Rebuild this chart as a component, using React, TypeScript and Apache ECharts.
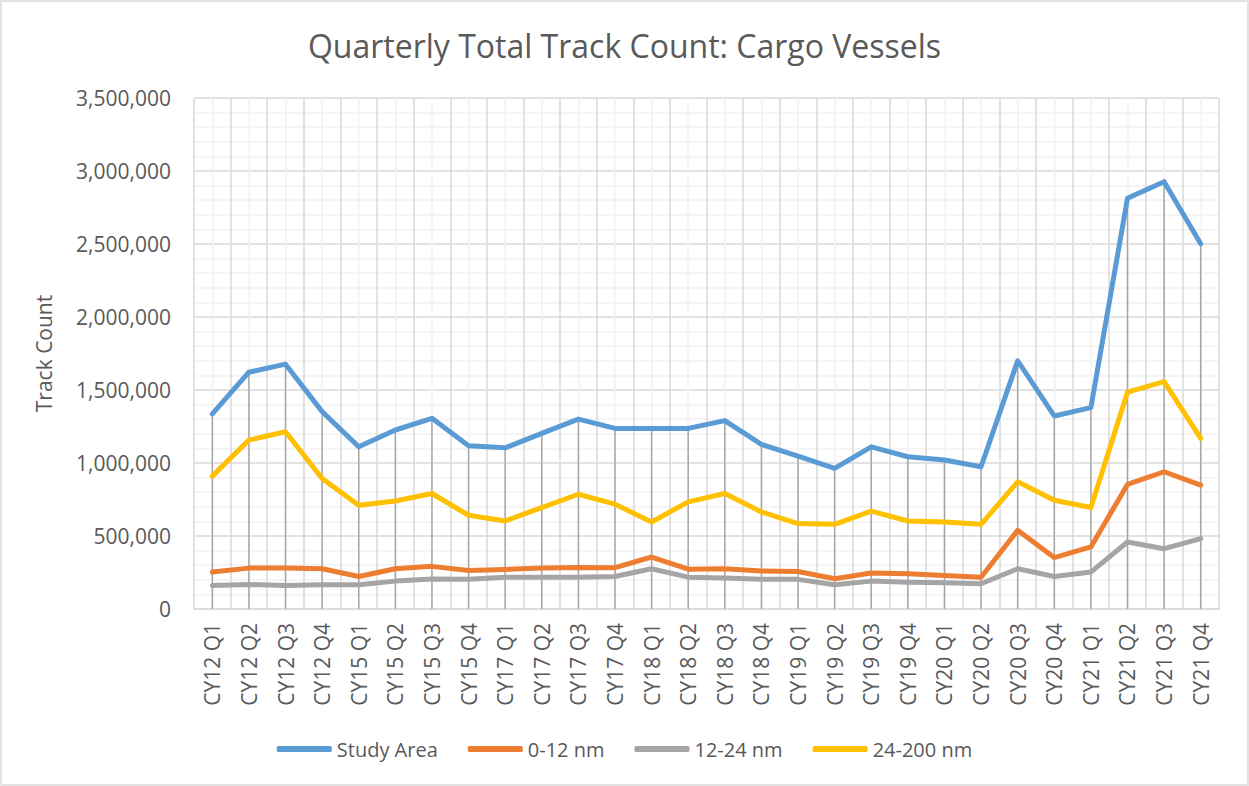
import React, { useEffect, useRef } from "react";
import * as echarts from "echarts";

const categories = [
  "CY12 Q1", "CY12 Q2", "CY12 Q3", "CY12 Q4",
  "CY15 Q1", "CY15 Q2", "CY15 Q3", "CY15 Q4",
  "CY17 Q1", "CY17 Q2", "CY17 Q3", "CY17 Q4",
  "CY18 Q1", "CY18 Q2", "CY18 Q3", "CY18 Q4",
  "CY19 Q1", "CY19 Q2", "CY19 Q3", "CY19 Q4",
  "CY20 Q1", "CY20 Q2", "CY20 Q3", "CY20 Q4",
  "CY21 Q1", "CY21 Q2", "CY21 Q3", "CY21 Q4",
];

const studyArea = [
  1336000, 1622000, 1677000, 1352000,
  1111000, 1226000, 1306000, 1118000,
  1104000, 1203000, 1301000, 1237000,
  1237000, 1237000, 1290000, 1128000,
  1047000, 963000, 1111000, 1043000,
  1020000, 974000, 1700000, 1322000,
  1379000, 2813000, 2927000, 2501000,
];

const nm0to12 = [
  253000, 280000, 280000, 276000,
  223000, 276000, 292000, 264000,
  271000, 280000, 285000, 283000,
  356000, 273000, 276000, 260000,
  257000, 207000, 246000, 242000,
  230000, 218000, 539000, 352000,
  425000, 853000, 940000, 848000,
];

const nm12to24 = [
  161000, 168000, 161000, 166000,
  166000, 191000, 205000, 203000,
  218000, 218000, 218000, 223000,
  276000, 218000, 212000, 203000,
  203000, 166000, 191000, 184000,
  180000, 173000, 276000, 223000,
  253000, 459000, 413000, 482000,
];

const nm24to200 = [
  910000, 1157000, 1214000, 894000,
  711000, 740000, 791000, 642000,
  603000, 695000, 786000, 718000,
  596000, 734000, 791000, 665000,
  585000, 580000, 670000, 603000,
  596000, 580000, 871000, 745000,
  695000, 1485000, 1558000, 1169000,
];

const seriesNames = ["Study Area", "0-12 nm", "12-24 nm", "24-200 nm"];
const seriesColors = ["#5b9bd5", "#ed7d31", "#a5a5a5", "#ffc000"];
const seriesData = [studyArea, nm0to12, nm12to24, nm24to200];

const FONT = "'Open Sans', sans-serif";
const TEXT = "#595959";

export default function App() {
  const ref = useRef<HTMLDivElement>(null);

  useEffect(() => {
    if (!ref.current) return;
    const chart = echarts.init(ref.current, undefined, { renderer: "svg" });
    const fmt = (v: number) => v.toLocaleString("en-US");

    chart.setOption({
      animation: false,
      backgroundColor: "#ffffff",
      textStyle: { fontFamily: FONT },
      title: {
        text: "Quarterly Total Track Count: Cargo Vessels",
        left: "center",
        top: 24,
        textStyle: { fontFamily: FONT, fontSize: 32, fontWeight: "normal", color: TEXT },
      },
      graphic: [
        {
          type: "rect",
          shape: { x: 1, y: 1, width: 1247, height: 784 },
          style: { fill: "none", stroke: "#d9d9d9", lineWidth: 1.5 },
          silent: true,
          z: -10,
        },
      ],
      legend: {
        data: seriesNames,
        left: "center",
        top: 734,
        itemWidth: 55,
        itemHeight: 6,
        itemGap: 30,
        icon: "roundRect",
        textStyle: { fontFamily: FONT, fontSize: 20, color: TEXT },
      },
      grid: { left: 194, right: 30, top: 98, bottom: 177, containLabel: false },
      xAxis: [
        {
          type: "category",
          data: categories,
          boundaryGap: true,
          axisLine: { show: true, lineStyle: { color: "#d9d9d9", width: 1.5 } },
          axisTick: { show: false },
          axisLabel: {
            rotate: 90,
            interval: 0,
            margin: 14,
            fontFamily: FONT,
            fontSize: 21,
            color: TEXT,
          },
          splitLine: { show: true, interval: 0, lineStyle: { color: "#d9d9d9", width: 1.5 } },
        },
        {
          type: "value",
          min: -0.5,
          max: 27.5,
          interval: 1,
          position: "top",
          axisLine: { show: false },
          axisTick: { show: false },
          axisLabel: { show: false },
          splitLine: { show: false },
          minorTick: { show: false, splitNumber: 2 },
          minorSplitLine: { show: true, lineStyle: { color: "#f2f2f2", width: 1.5 } },
        },
      ],
      yAxis: {
        type: "value",
        min: 0,
        max: 3500000,
        interval: 500000,
        name: "Track Count",
        nameLocation: "middle",
        nameGap: 140,
        nameTextStyle: { fontFamily: FONT, fontSize: 21, color: TEXT },
        axisLine: { show: false },
        axisTick: { show: false },
        axisLabel: { formatter: fmt, fontFamily: FONT, fontSize: 21, color: TEXT, margin: 23 },
        splitLine: { show: true, lineStyle: { color: "#d9d9d9", width: 1.5 } },
        minorTick: { show: false, splitNumber: 5 },
        minorSplitLine: { show: true, lineStyle: { color: "#f2f2f2", width: 1.5 } },
      },
      series: [
        {
          name: "drop",
          type: "bar",
          xAxisIndex: 0,
          data: studyArea,
          barWidth: 1.5,
          itemStyle: { color: "#a5a5a5" },
          silent: true,
          z: 1,
        },
        ...seriesNames.map((name, i) => ({
          name,
          type: "line",
          xAxisIndex: 0,
          data: seriesData[i],
          symbol: "none",
          lineStyle: { color: seriesColors[i], width: 5, cap: "round", join: "round" },
          itemStyle: { color: seriesColors[i] },
          z: 3 + i,
        })),
      ],
    });

    return () => chart.dispose();
  }, []);

  return (
    <div
      ref={ref}
      style={{ position: "fixed", left: 0, top: 0, width: 1249, height: 786 }}
    />
  );
}
